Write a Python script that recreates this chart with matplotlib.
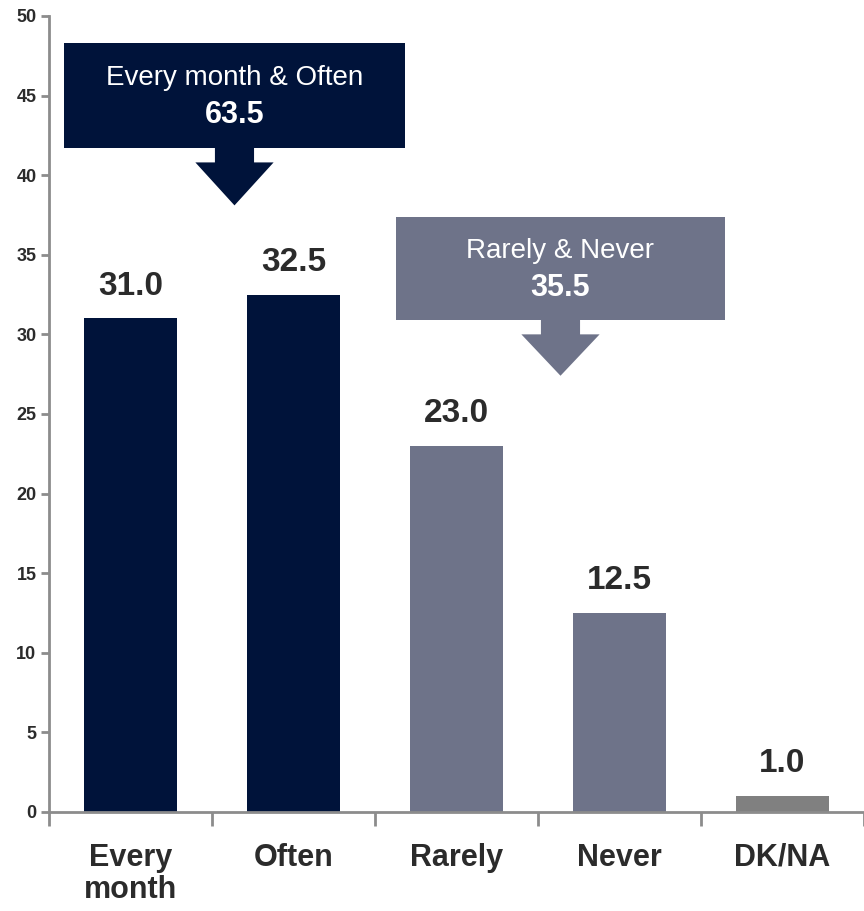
import matplotlib.pyplot as plt
from matplotlib.patches import Rectangle, Polygon

plt.rcParams['font.family'] = ['Liberation Sans Narrow', 'Liberation Sans', 'DejaVu Sans']

# data
categories = ["Every\nmonth", "Often", "Rarely", "Never", "DK/NA"]
values = [31.0, 32.5, 23.0, 12.5, 1.0]
groups = ["high", "high", "low", "low", "dk"]
group_labels = ["Every month & Often", "Rarely & Never"]
group_totals = [63.5, 35.5]

navy = "#00133a"
slate = "#6e7389"
grey = "#808080"
colors = {"high": navy, "low": slate, "dk": grey}
axis_col = "#8c8c8c"
text_col = "#2b2b2b"

fig = plt.figure(figsize=(8.64, 9.11), dpi=100)
ax = fig.add_axes([0.0567, 0.1087, 0.9433, 0.8738])

x = range(len(categories))
ax.bar(x, values, width=0.57, color=[colors[g] for g in groups], zorder=2)

for xi, v in zip(x, values):
    ax.annotate(f"{v:.1f}", (xi, v), xytext=(0, 12), textcoords="offset points",
                ha="center", va="bottom", fontsize=24, fontweight="bold", color=text_col)

ax.set_xlim(-0.5, 4.5)
ax.set_ylim(0, 50)
ax.set_yticks(range(0, 51, 5))
ax.set_xticks(list(x))
ax.set_xticklabels(categories, fontsize=22, fontweight="bold", color=text_col, linespacing=1.1)
ax.set_xticks([i - 0.5 for i in range(len(categories) + 1)], minor=True)
ax.tick_params(axis="x", which="major", length=0, pad=22)
ax.tick_params(axis="x", which="minor", length=10, width=2, color=axis_col, direction="out")
ax.tick_params(axis="y", length=6, width=2, color=axis_col, labelsize=13, pad=3)
for lab in ax.get_yticklabels():
    lab.set_fontweight("bold")
    lab.set_color(text_col)

for side in ["top", "right"]:
    ax.spines[side].set_visible(False)
for side in ["left", "bottom"]:
    ax.spines[side].set_color(axis_col)
    ax.spines[side].set_linewidth(2)


def callout(x0, x1, y0, y1, tip_y, head_top, color, label, total):
    ax.add_patch(Rectangle((x0, y0), x1 - x0, y1 - y0, facecolor=color,
                           edgecolor="none", zorder=3, clip_on=False))
    cx = (x0 + x1) / 2
    sw, hw = 0.12, 0.24
    pts = [(cx - sw, y0 + 0.1), (cx + sw, y0 + 0.1), (cx + sw, head_top),
           (cx + hw, head_top), (cx, tip_y), (cx - hw, head_top), (cx - sw, head_top)]
    ax.add_patch(Polygon(pts, closed=True, facecolor=color, edgecolor="none",
                         zorder=3, clip_on=False))
    ym = (y0 + y1) / 2
    ax.text(cx, ym + 1.1, label, ha="center", va="center", color="white",
            fontsize=20, zorder=4)
    ax.text(cx, ym - 1.25, f"{total:.1f}", ha="center", va="center", color="white",
            fontsize=22, fontweight="bold", zorder=4)


callout(-0.408, 1.684, 41.7, 48.3, 38.1, 40.8, navy, group_labels[0], group_totals[0])
callout(1.629, 3.647, 30.9, 37.4, 27.4, 30.0, slate, group_labels[1], group_totals[1])

fig.savefig("out.png", dpi=100)
